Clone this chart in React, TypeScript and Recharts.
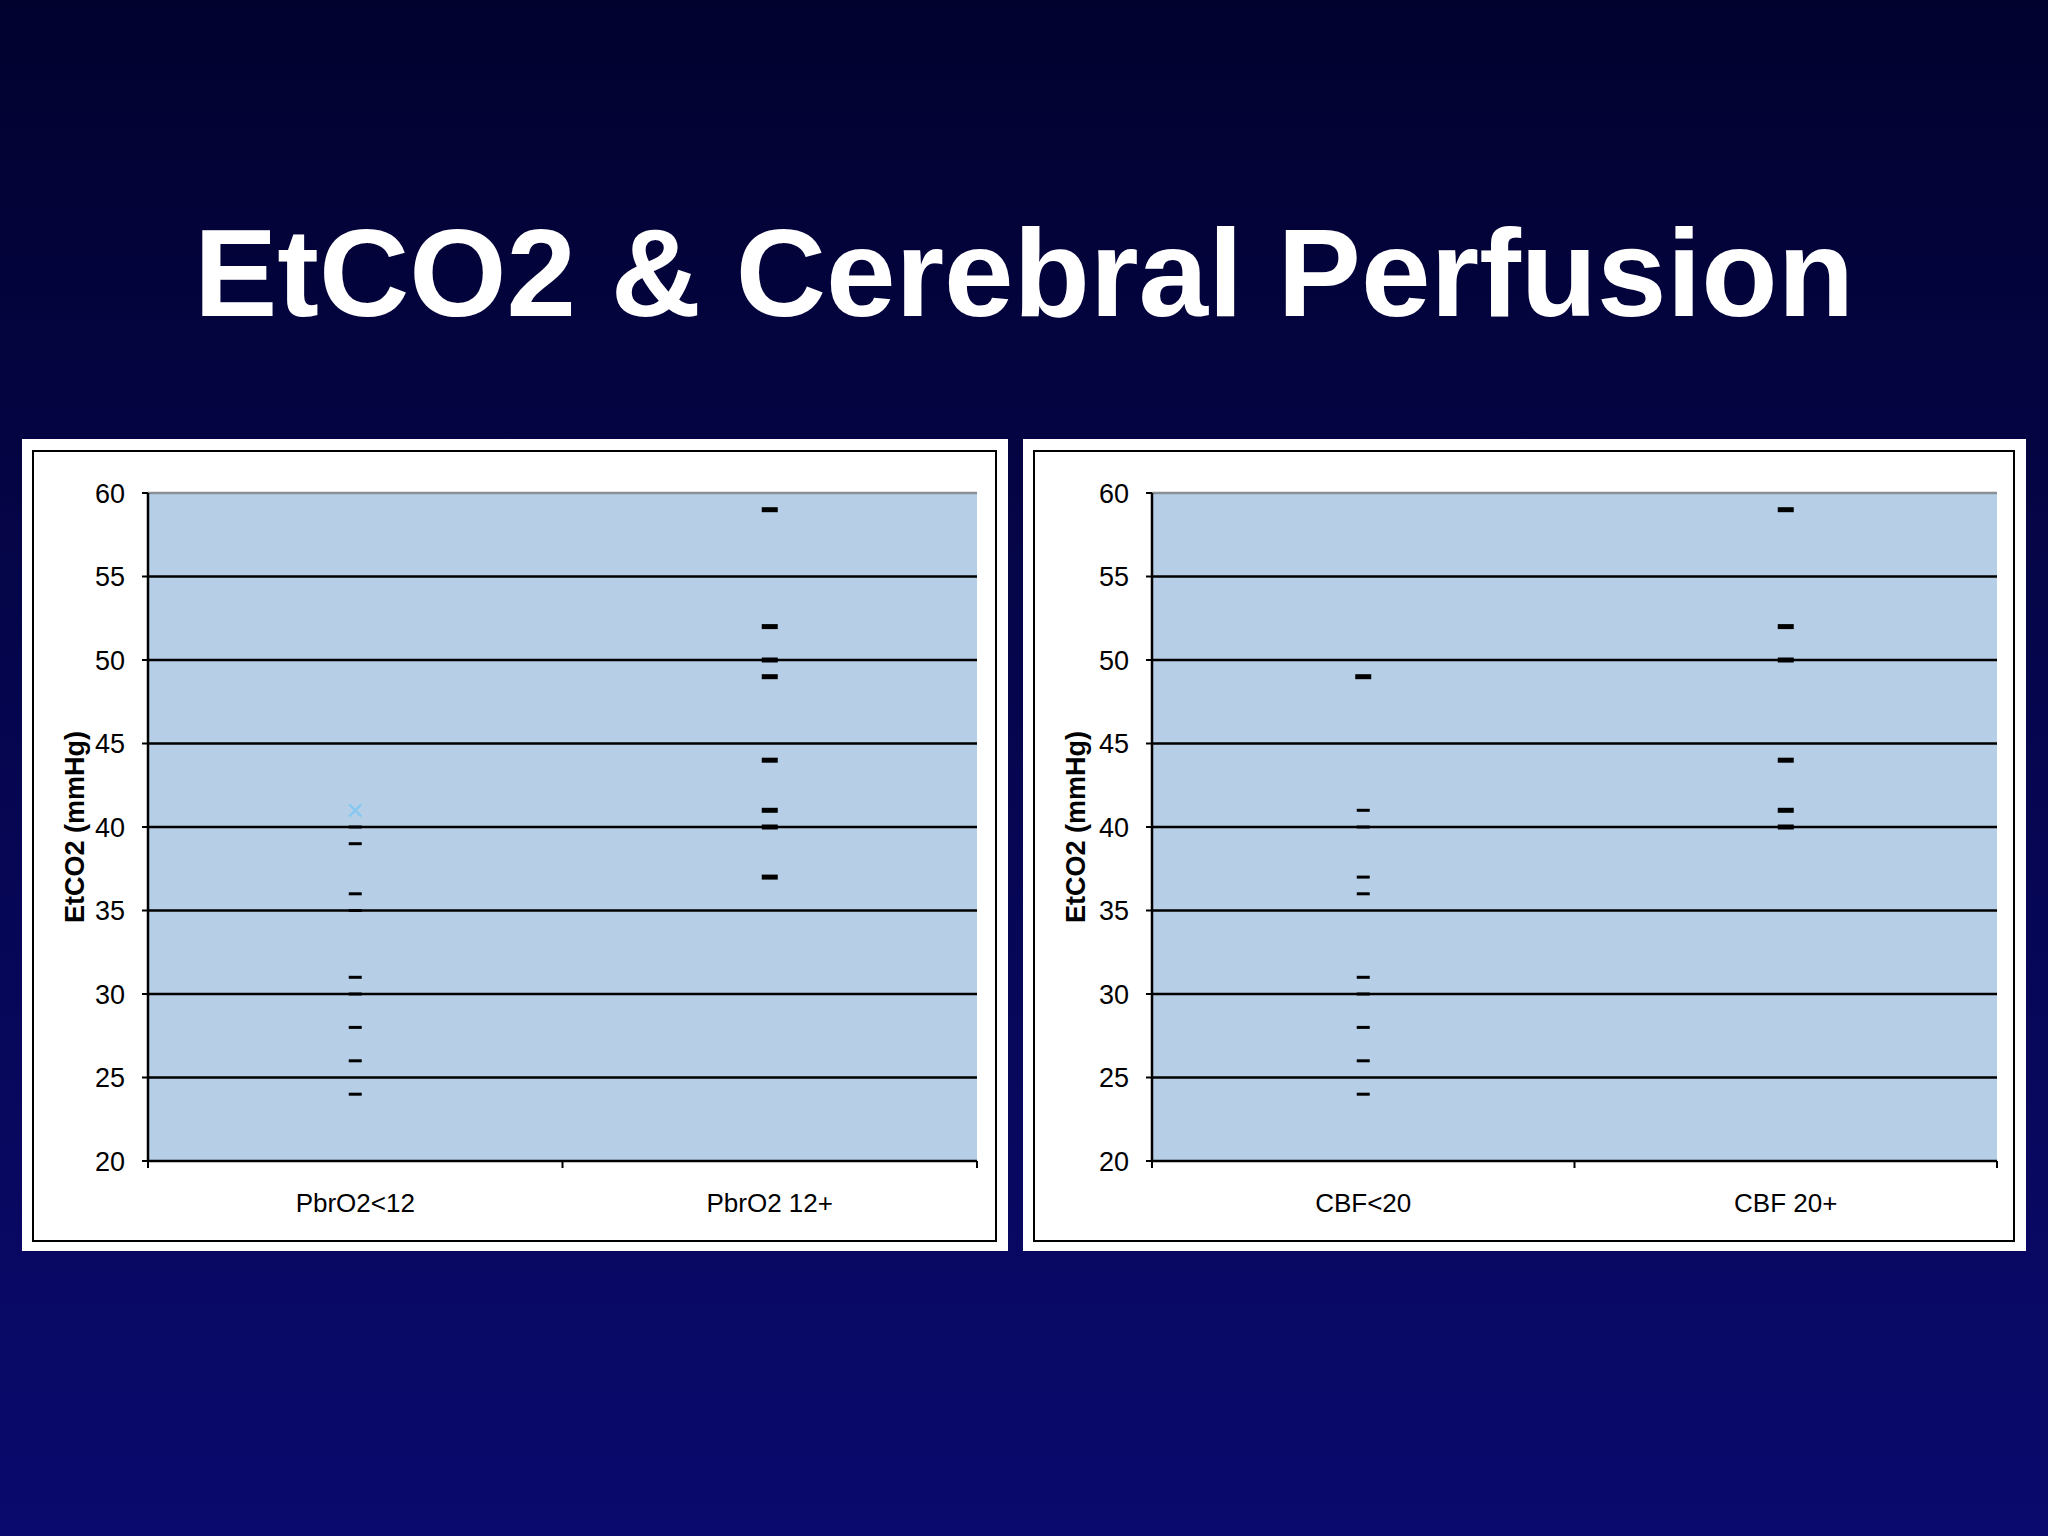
import React from 'react'
import { ScatterChart, Scatter, XAxis, YAxis, CartesianGrid, ReferenceLine } from 'recharts'

const pbrCategories = ['PbrO2<12', 'PbrO2 12+']
const pbrLow = [40, 39, 36, 35, 31, 30, 28, 26, 24]
const pbrLowCross = [41]
const pbrHigh = [59, 52, 50, 49, 44, 41, 40, 37]

const cbfCategories = ['CBF<20', 'CBF 20+']
const cbfLow = [41, 40, 37, 36, 31, 30, 28, 26, 24]
const cbfLowBold = [49]
const cbfHigh = [59, 52, 50, 44, 41, 40]

const yTicks = [20, 25, 30, 35, 40, 45, 50, 55, 60]
const gridValues = [25, 30, 35, 40, 45, 50, 55]

const FONT = '"Liberation Sans", Arial, sans-serif'
const PLOT_BG = '#b6cfe7'
const BORDER_GRAY = '#8a8f94'

const toPoints = (cat: string, values: number[]) => values.map((value) => ({ cat, value }))

const dash = (w: number, h: number) => (props: any) => {
  const { cx, cy } = props
  if (cx == null || cy == null) return <g />
  return <rect x={cx - w / 2} y={cy - h / 2} width={w} height={h} fill="#000" />
}

const cross = (props: any) => {
  const { cx, cy } = props
  if (cx == null || cy == null) return <g />
  const r = 6
  return (
    <path
      d={`M${cx - r},${cy - r}L${cx + r},${cy + r}M${cx + r},${cy - r}L${cx - r},${cy + r}`}
      stroke="#86c8f2"
      strokeWidth={2.5}
    />
  )
}

// category label at band centre, tick marks at the band edges
const CategoryTick = (props: any) => {
  const { x, y, payload, index, visibleTicksCount } = props
  const half = payload.offset || 0
  const axisY = y - 33
  const isLast = index === visibleTicksCount - 1
  return (
    <g>
      <line x1={x - half} x2={x - half} y1={axisY} y2={axisY + 7} stroke="#000" strokeWidth={2} />
      {isLast && <line x1={x + half} x2={x + half} y1={axisY} y2={axisY + 7} stroke="#000" strokeWidth={2} />}
      <text x={x} y={y} dy="0.71em" textAnchor="middle" fill="#000" fontSize={26} fontFamily={FONT}>
        {payload.value}
      </text>
    </g>
  )
}

type SeriesDef = { data: { cat: string; value: number }[]; shape: any }

type PanelProps = {
  left: number
  width: number
  yAxisWidth: number
  rightMargin: number
  categories: string[]
  series: SeriesDef[]
}

const Panel = ({ left, width, yAxisWidth, rightMargin, categories, series }: PanelProps) => {
  const height = 812
  return (
    <div style={{ position: 'absolute', left, top: 439, width, height, background: '#fff' }}>
      <div
        style={{
          position: 'absolute',
          left: 10,
          top: 11,
          width: width - 21,
          height: height - 20,
          border: '2.5px solid #000',
          boxSizing: 'border-box',
        }}
      />
      <div style={{ position: 'absolute', left: 0, top: 0 }}>
        <ScatterChart width={width} height={height} margin={{ top: 54, right: rightMargin, left: 0, bottom: 0 }}>
          <CartesianGrid
            xAxisId="cat"
            vertical={false}
            horizontalValues={gridValues}
            stroke="#000"
            strokeWidth={2.5}
            fill={PLOT_BG}
            fillOpacity={1}
          />
          <XAxis
            xAxisId="cat"
            type="category"
            dataKey="cat"
            allowDuplicatedCategory={false}
            domain={categories}
            height={90}
            axisLine={{ stroke: '#000', strokeWidth: 2.5 }}
            tickLine={false}
            tickSize={6}
            tickMargin={27}
            tick={<CategoryTick />}
          />
          <YAxis
            type="number"
            dataKey="value"
            domain={[20, 60]}
            ticks={yTicks}
            interval={0}
            width={yAxisWidth}
            tickSize={6}
            tickMargin={17}
            axisLine={{ stroke: '#000', strokeWidth: 2.5 }}
            tickLine={{ stroke: '#000', strokeWidth: 2 }}
            tick={{ fill: '#000', fontSize: 27, fontFamily: FONT }}
            label={{
              value: 'EtCO2 (mmHg)',
              angle: -90,
              position: 'insideLeft',
              offset: 52,
              style: { textAnchor: 'middle', fontSize: 27, fontWeight: 'bold', fontFamily: FONT, fill: '#000' },
            }}
          />
          <YAxis
            yAxisId="frame"
            orientation="right"
            type="number"
            domain={[20, 60]}
            allowDataOverflow
            width={0}
            tick={false}
            tickLine={false}
            axisLine={{ stroke: BORDER_GRAY, strokeWidth: 2.5 }}
          />
          <ReferenceLine xAxisId="cat" y={60} stroke={BORDER_GRAY} strokeWidth={2.5} />
          {series.map((s, i) => (
            <Scatter key={i} xAxisId="cat" data={s.data} shape={s.shape} isAnimationActive={false} />
          ))}
        </ScatterChart>
      </div>
    </div>
  )
}

const App = () => {
  const pbrSeries: SeriesDef[] = [
    { data: toPoints(pbrCategories[0], pbrLow), shape: dash(13, 3) },
    { data: toPoints(pbrCategories[0], pbrLowCross), shape: cross },
    { data: toPoints(pbrCategories[1], pbrHigh), shape: dash(16, 5) },
  ]
  const cbfSeries: SeriesDef[] = [
    { data: toPoints(cbfCategories[0], cbfLow), shape: dash(13, 3) },
    { data: toPoints(cbfCategories[0], cbfLowBold), shape: dash(16, 5) },
    { data: toPoints(cbfCategories[1], cbfHigh), shape: dash(16, 5) },
  ]
  return (
    <div
      style={{
        position: 'absolute',
        left: 0,
        top: 0,
        width: 2048,
        height: 1536,
        overflow: 'hidden',
        background: 'linear-gradient(180deg, #02022f 0%, #05054e 45%, #0a0a6e 100%)',
        fontFamily: FONT,
      }}
    >
      <div
        style={{
          position: 'absolute',
          left: 0,
          top: 210,
          width: 2048,
          textAlign: 'center',
          color: '#fff',
          fontSize: 125,
          lineHeight: '125px',
          fontWeight: 'bold',
          whiteSpace: 'nowrap',
        }}
      >
        EtCO2 &amp; Cerebral Perfusion
      </div>
      <Panel left={22} width={986} yAxisWidth={126} rightMargin={31} categories={pbrCategories} series={pbrSeries} />
      <Panel left={1023} width={1003} yAxisWidth={129} rightMargin={29} categories={cbfCategories} series={cbfSeries} />
    </div>
  )
}

export default App
